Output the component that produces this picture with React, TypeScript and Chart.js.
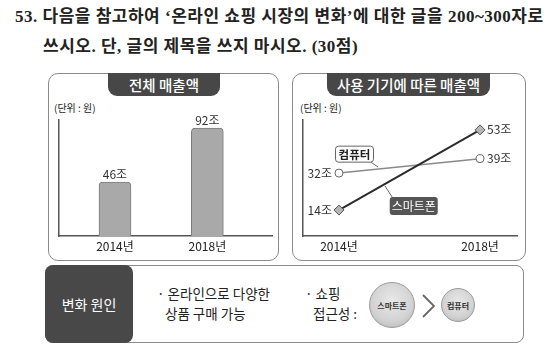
import { useEffect, useRef } from 'react';
import { Chart, registerables } from 'chart.js';

Chart.register(...registerables);

// ---- data ----
const years = ['2014년', '2018년'];
const totalSales = [46, 92];
const smartphoneSales = [14, 53];
const computerSales = [32, 39];
const seriesNames = ['스마트폰', '컴퓨터'];
const unitSuffix = '조';

const FONT = "'Noto Sans CJK KR', 'Noto Sans', sans-serif";

const barLabelPlugin = {
  id: 'barLabels',
  afterDatasetsDraw(chart: any) {
    const { ctx } = chart;
    const meta = chart.getDatasetMeta(0);
    ctx.save();
    ctx.font = `12px ${FONT}`;
    ctx.fillStyle = '#333';
    ctx.textAlign = 'center';
    ctx.textBaseline = 'bottom';
    meta.data.forEach((el: any, i: number) => {
      ctx.fillText(`${totalSales[i]}${unitSuffix}`, el.x, el.y - 2);
    });
    ctx.restore();
  },
};

const lineLabelPlugin = {
  id: 'lineLabels',
  afterDatasetsDraw(chart: any) {
    const { ctx } = chart;
    const series = [smartphoneSales, computerSales];
    ctx.save();
    ctx.font = `12px ${FONT}`;
    ctx.fillStyle = '#333';
    ctx.textBaseline = 'middle';
    series.forEach((vals, d) => {
      const meta = chart.getDatasetMeta(d);
      meta.data.forEach((el: any, i: number) => {
        const txt = `${vals[i]}${unitSuffix}`;
        if (i === 0) {
          ctx.textAlign = 'right';
          ctx.fillText(txt, el.x - 7, el.y);
        } else {
          ctx.textAlign = 'left';
          ctx.fillText(txt, el.x + 7, el.y);
        }
      });
    });

    // callouts
    const xs = chart.scales.x;
    const ys = chart.scales.y;
    const roundRect = (x: number, y: number, w: number, h: number, r: number) => {
      ctx.beginPath();
      ctx.moveTo(x + r, y);
      ctx.arcTo(x + w, y, x + w, y + h, r);
      ctx.arcTo(x + w, y + h, x, y + h, r);
      ctx.arcTo(x, y + h, x, y, r);
      ctx.arcTo(x, y, x + w, y, r);
      ctx.closePath();
    };
    // computer callout
    {
      const cx = xs.getPixelForValue(0.11);
      const cy = ys.getPixelForValue(41.2);
      const tx = xs.getPixelForValue(0.277);
      const ty = ys.getPixelForValue(computerSales[0] + (computerSales[1] - computerSales[0]) * 0.277);
      ctx.strokeStyle = '#666';
      ctx.lineWidth = 1;
      ctx.beginPath();
      ctx.moveTo(cx + 15, cy + 7);
      ctx.lineTo(tx, ty - 2);
      ctx.stroke();
      roundRect(cx - 19, cy - 8, 38, 16, 3);
      ctx.fillStyle = '#fff';
      ctx.fill();
      ctx.strokeStyle = '#666';
      ctx.stroke();
      ctx.fillStyle = '#222';
      ctx.textAlign = 'center';
      ctx.font = `bold 11.5px ${FONT}`;
      ctx.fillText(seriesNames[1], cx, cy + 0.5);
    }
    // smartphone callout
    {
      const cx = xs.getPixelForValue(0.53);
      const cy = ys.getPixelForValue(16.0);
      const tx = xs.getPixelForValue(0.326);
      const ty = ys.getPixelForValue(smartphoneSales[0] + (smartphoneSales[1] - smartphoneSales[0]) * 0.326);
      ctx.strokeStyle = '#666';
      ctx.lineWidth = 1;
      ctx.beginPath();
      ctx.moveTo(cx - 21, cy - 8);
      ctx.lineTo(tx, ty + 2);
      ctx.stroke();
      roundRect(cx - 24, cy - 9, 48, 18, 3);
      ctx.fillStyle = '#555';
      ctx.fill();
      ctx.fillStyle = '#fff';
      ctx.textAlign = 'center';
      ctx.font = `12px ${FONT}`;
      ctx.fillText(seriesNames[0], cx, cy + 0.5);
    }
    ctx.restore();
  },
};

const tickCfg = {
  font: { family: FONT, size: 12 },
  color: '#222',
  padding: 3,
  maxRotation: 0,
  autoSkip: false,
  callback: (v: any) => years[v] ?? '',
};

export default function App() {
  const leftRef = useRef<HTMLCanvasElement>(null);
  const rightRef = useRef<HTMLCanvasElement>(null);

  useEffect(() => {
    const c1 = new Chart(leftRef.current as HTMLCanvasElement, {
      type: 'bar',
      data: {
        datasets: [
          {
            data: years.map((_, i) => ({ x: i, y: totalSales[i] })),
            backgroundColor: '#a9a9a9',
            borderColor: '#7c7c7c',
            borderWidth: 1,
            borderRadius: { topLeft: 4, topRight: 4, bottomLeft: 0, bottomRight: 0 },
            borderSkipped: 'bottom',
            barThickness: 32,
          } as any,
        ],
      },
      options: {
        animation: false,
        responsive: false,
        maintainAspectRatio: false,
        layout: { padding: { left: 11, right: 7, top: 23, bottom: 3.6 } },
        plugins: { legend: { display: false }, tooltip: { enabled: false } },
        scales: {
          x: {
            type: 'linear',
            offset: false,
            min: -0.606,
            max: 1.7,
            grid: { display: false, drawTicks: false },
            border: { color: '#555', width: 1.5 },
            afterBuildTicks: (s: any) => {
              s.ticks = years.map((_, i) => ({ value: i }));
            },
            ticks: tickCfg as any,
          },
          y: {
            min: 0,
            max: 99,
            grid: { display: false, drawTicks: false },
            ticks: { display: false },
            border: { color: '#555', width: 1.5 },
          },
        },
      } as any,
      plugins: [barLabelPlugin],
    });

    const c2 = new Chart(rightRef.current as HTMLCanvasElement, {
      type: 'line',
      data: {
        datasets: [
          {
            label: seriesNames[0],
            data: years.map((_, i) => ({ x: i, y: smartphoneSales[i] })),
            borderColor: '#2b2b2b',
            borderWidth: 2,
            pointStyle: 'rectRot',
            pointRadius: 5,
            pointBackgroundColor: '#b5b5b5',
            pointBorderColor: '#555',
            pointBorderWidth: 1,
          },
          {
            label: seriesNames[1],
            data: years.map((_, i) => ({ x: i, y: computerSales[i] })),
            borderColor: '#8a8a8a',
            borderWidth: 1.5,
            pointStyle: 'circle',
            pointRadius: 4,
            pointBackgroundColor: '#fff',
            pointBorderColor: '#666',
            pointBorderWidth: 1,
          },
        ],
      },
      options: {
        animation: false,
        responsive: false,
        maintainAspectRatio: false,
        layout: { padding: { left: 11, right: 8, top: 23, bottom: 4.6 } },
        plugins: { legend: { display: false }, tooltip: { enabled: false } },
        scales: {
          x: {
            type: 'linear',
            offset: false,
            min: -0.255,
            max: 1.262,
            grid: { display: false, drawTicks: false },
            border: { color: '#555', width: 1.5 },
            afterBuildTicks: (s: any) => {
              s.ticks = years.map((_, i) => ({ value: i }));
            },
            ticks: tickCfg as any,
          },
          y: {
            min: 1.4,
            max: 57.8,
            grid: { display: false, drawTicks: false },
            ticks: { display: false },
            border: { color: '#555', width: 1.5 },
          },
        },
      } as any,
      plugins: [lineLabelPlugin],
    });

    return () => {
      c1.destroy();
      c2.destroy();
    };
  }, []);

  const abs = (l: number, t: number, w?: number, h?: number): any => ({
    position: 'absolute',
    left: l,
    top: t,
    width: w,
    height: h,
    boxSizing: 'border-box',
  });

  const tab = (l: number, w: number, text: string) => (
    <div
      style={{
        ...abs(l, 73, w, 23),
        background: '#474747',
        borderRadius: '0 0 9px 9px',
        color: '#fff',
        fontSize: 14.5,
        fontWeight: 500,
        display: 'flex',
        alignItems: 'center',
        justifyContent: 'center',
        whiteSpace: 'nowrap',
      }}
    >
      {text}
    </div>
  );

  const circle = (cx: number, cy: number, r: number, text: string, fs: number) => (
    <div
      style={{
        ...abs(cx - r, cy - r, 2 * r, 2 * r),
        borderRadius: '50%',
        border: '1px solid #9a9a9a',
        background: 'radial-gradient(circle at 50% 40%, #e8e8e8 0%, #d2d2d2 60%, #b0b0b0 100%)',
        display: 'flex',
        alignItems: 'center',
        justifyContent: 'center',
        fontSize: fs,
        fontWeight: 700,
        color: '#333',
        whiteSpace: 'nowrap',
      }}
    >
      {text}
    </div>
  );

  const serif = "'Liberation Serif', 'Noto Sans CJK KR', serif";
  const titleStyle = {
    fontFamily: serif,
    fontSize: 17,
    fontWeight: 700,
    letterSpacing: '0.5px',
    lineHeight: '24px',
    whiteSpace: 'nowrap',
  };

  return (
    <div
      style={{
        position: 'absolute',
        left: 0,
        top: 0,
        width: 554,
        height: 352,
        background: '#fff',
        overflow: 'hidden',
        fontFamily: FONT,
        color: '#222',
      }}
    >
      <div style={{ ...abs(15, 5), ...titleStyle }}>
        53. 다음을 참고하여 ‘온라인 쇼핑 시장의 변화’에 대한 글을 200~300자로
      </div>
      <div style={{ ...abs(43, 35), ...titleStyle }}>
        쓰시오. 단, 글의 제목을 쓰지 마시오. (30점)
      </div>

      {/* left panel */}
      <div style={{ ...abs(48, 73, 231, 188), border: '1.5px solid #8a8a8a', borderRadius: 10 }} />
      {tab(108, 112, '전체 매출액')}
      <div style={{ ...abs(54, 101), fontSize: 10, lineHeight: '14px', whiteSpace: 'nowrap' }}>(단위 : 원)</div>
      <canvas ref={leftRef} width={231} height={163} style={{ ...abs(48, 97, 231, 163) }} />

      {/* right panel */}
      <div style={{ ...abs(292, 73, 234, 188), border: '1.5px solid #8a8a8a', borderRadius: 10 }} />
      {tab(327, 163, '사용 기기에 따른 매출액')}
      <div style={{ ...abs(300, 101), fontSize: 10, lineHeight: '14px', whiteSpace: 'nowrap' }}>(단위 : 원)</div>
      <canvas ref={rightRef} width={233} height={164} style={{ ...abs(292, 97, 233, 164) }} />

      {/* bottom box */}
      <div style={{ ...abs(45, 265, 479, 78), border: '1.5px solid #8a8a8a', borderRadius: 8 }} />
      <div
        style={{
          ...abs(45, 265, 88, 78),
          background: '#484848',
          borderRadius: 8,
          color: '#fff',
          fontSize: 14,
          display: 'flex',
          alignItems: 'center',
          justifyContent: 'center',
          whiteSpace: 'nowrap',
        }}
      >
        변화 원인
      </div>
      <div style={{ ...abs(157, 283), fontSize: 13.5, lineHeight: '20px', whiteSpace: 'nowrap' }}>
        · 온라인으로 다양한
        <br />
        <span style={{ paddingLeft: 8 }}>상품 구매 가능</span>
      </div>
      <div style={{ ...abs(305, 283), fontSize: 13.5, lineHeight: '20px', whiteSpace: 'nowrap' }}>
        · 쇼핑
        <br />
        <span style={{ paddingLeft: 8 }}>접근성 :</span>
      </div>
      {circle(392, 305, 23, '스마트폰', 8)}
      <svg style={{ ...abs(421, 294, 16, 24) }} width={16} height={24}>
        <polyline points="2,1 13,12 2,23" fill="none" stroke="#666" strokeWidth={1.8} />
      </svg>
      {circle(458, 305, 17, '컴퓨터', 8)}
    </div>
  );
}
